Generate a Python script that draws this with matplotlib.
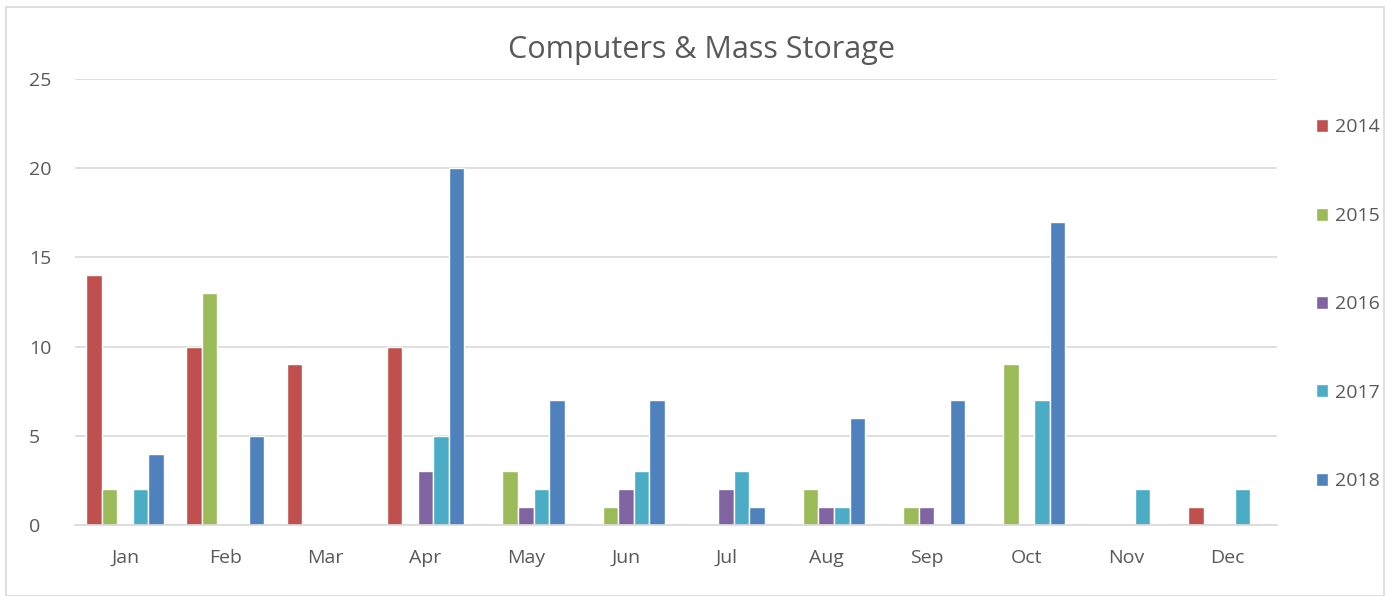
import numpy as np
import matplotlib.pyplot as plt
from matplotlib.patches import Rectangle

plt.rcParams["font.family"] = ["Open Sans", "DejaVu Sans"]

months = ["Jan", "Feb", "Mar", "Apr", "May", "Jun",
          "Jul", "Aug", "Sep", "Oct", "Nov", "Dec"]
years = ["2014", "2015", "2016", "2017", "2018"]

v2014 = [14, 10, 9, 10, 0, 0, 0, 0, 0, 0, 0, 1]
v2015 = [2, 13, 0, 0, 3, 1, 0, 2, 1, 9, 0, 0]
v2016 = [0, 0, 0, 3, 1, 2, 2, 1, 1, 0, 0, 0]
v2017 = [2, 0, 0, 5, 2, 3, 3, 1, 0, 7, 2, 2]
v2018 = [4, 5, 0, 20, 7, 7, 1, 6, 7, 17, 0, 0]

series = [v2014, v2015, v2016, v2017, v2018]
colors = ["#C0504D", "#9BBB59", "#8064A2", "#4BACC6", "#4F81BD"]

text_col = "#595959"
grid_col = "#D9D9D9"

fig = plt.figure(figsize=(13.85, 5.96), dpi=100)
ax = fig.add_axes([75/1385, 1-525/596, (1277-75)/1385, (525-79)/596])

# obramowanie całego wykresu
fig.patches.append(Rectangle((6/1385, 0), 1 - 7/1385, 1 - 7/596,
                             transform=fig.transFigure, fill=False,
                             edgecolor="#D9D9D9", linewidth=1.2))

x = np.arange(len(months))
slot = 0.155
for i, (vals, col, yr) in enumerate(zip(series, colors, years)):
    ax.bar(x + (i - 2) * slot, vals, width=slot, color=col,
           edgecolor="white", linewidth=1.0, label=yr, zorder=3)

ax.set_xlim(-0.5, 11.5)
ax.set_ylim(0, 25)
ax.set_yticks(range(0, 26, 5))
ax.set_xticks(x)
ax.set_xticklabels(months)
ax.yaxis.grid(True, color=grid_col, linewidth=1.2, zorder=0)
ax.set_axisbelow(True)
for side in ("top", "right", "left"):
    ax.spines[side].set_visible(False)
ax.spines["bottom"].set_color(grid_col)
ax.spines["bottom"].set_linewidth(1.2)
ax.spines["bottom"].set_zorder(4)
ax.tick_params(axis="both", length=0, labelsize=14, colors=text_col)
ax.tick_params(axis="x", pad=17)
ax.tick_params(axis="y", pad=33)
for lbl in ax.get_yticklabels():
    lbl.set_horizontalalignment("left")

fig.text(702/1385, 1-50/596, "Computers & Mass Storage", ha="center",
         va="center", fontsize=22, color=text_col)

leg = fig.legend(loc="upper left", bbox_to_anchor=(1298/1385, 1-101/596),
                 frameon=False, fontsize=14, handlelength=0.65,
                 handleheight=0.65, handletextpad=0.35, labelspacing=3.62)
for t in leg.get_texts():
    t.set_color(text_col)

fig.savefig("out.png", dpi=100, facecolor="white")
